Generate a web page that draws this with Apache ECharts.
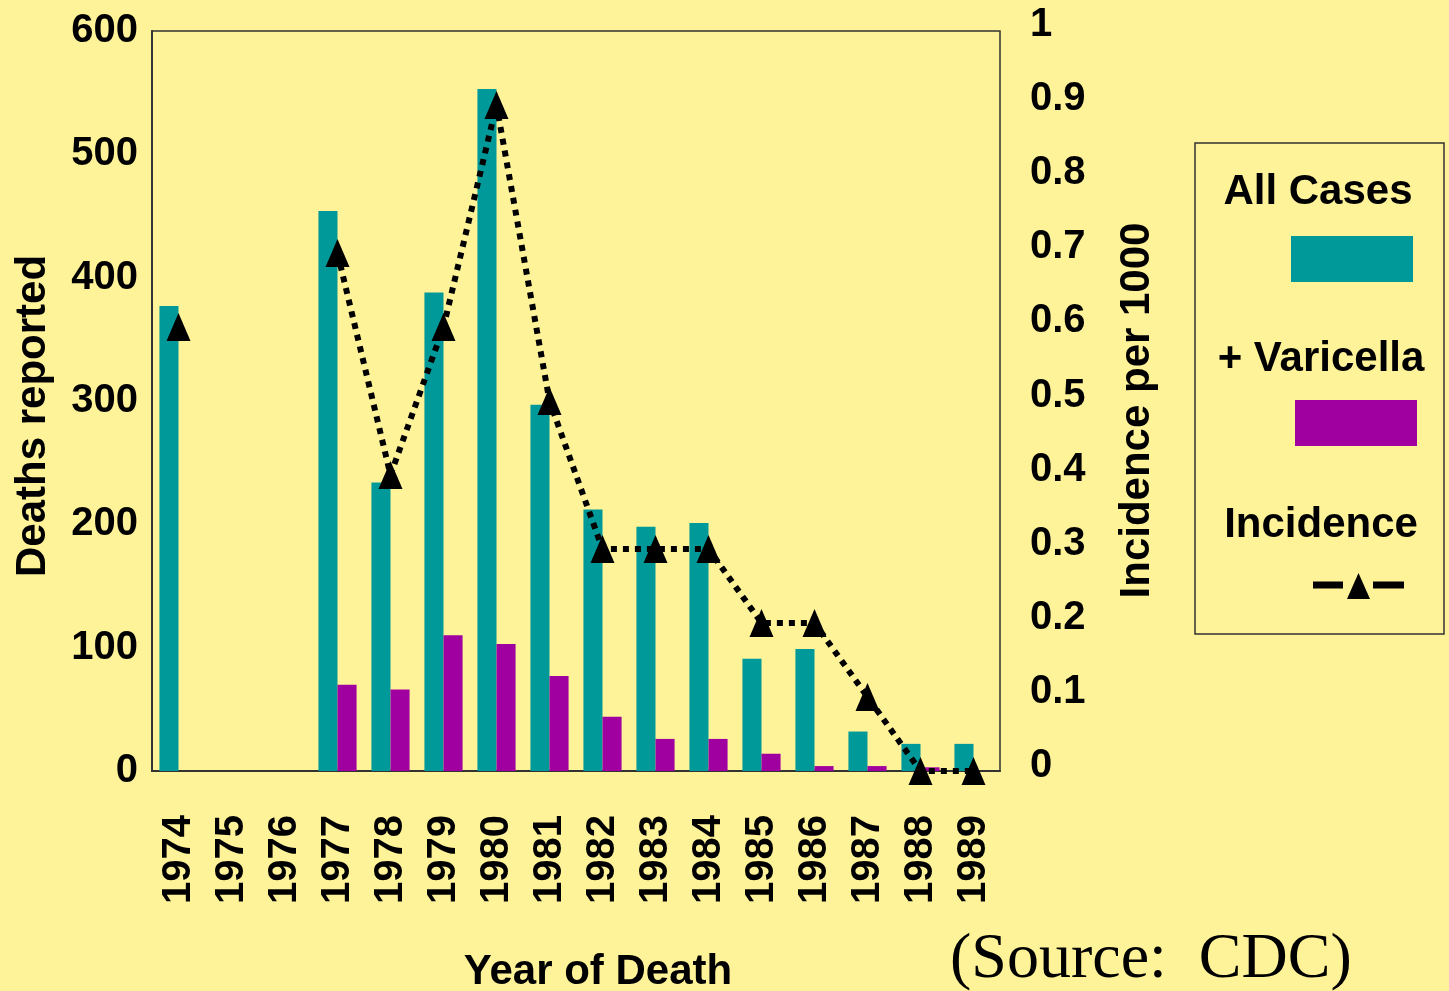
<!DOCTYPE html>
<html>
<head>
<meta charset="utf-8">
<script src="https://cdn.jsdelivr.net/npm/echarts@6/dist/echarts.min.js"></script>
<style>
  html, body { margin: 0; padding: 0; background: #FFF399; }
  #main { width: 1449px; height: 991px; }
</style>
</head>
<body>
<div id="main"></div>
<script>
  // data
  var years = ['1974', '1975', '1976', '1977', '1978', '1979', '1980', '1981',
               '1982', '1983', '1984', '1985', '1986', '1987', '1988', '1989']
  var allCases = [377, null, null, 454, 234, 388, 553, 297, 212, 198, 201, 91, 99, 32, 22, 22]
  var varicella = [null, null, null, 70, 66, 110, 103, 77, 44, 26, 26, 14, 4, 4, 3, null]
  var incidence = [0.6, null, null, 0.7, 0.4, 0.6, 0.9, 0.5, 0.3, 0.3, 0.3, 0.2, 0.2, 0.1, 0, 0]

  var font = '"Liberation Sans", Arial, sans-serif'
  var chart = echarts.init(document.getElementById('main'))
  chart.setOption({
    backgroundColor: '#FFF399',
    animation: false,
    grid: [
      {
        left: 152, right: 449, top: 31, bottom: 220,
        outerBoundsMode: 'none', containLabel: false,
        show: true, borderColor: '#333', borderWidth: 1.5, backgroundColor: 'transparent'
      },
      // right-hand scale in the original sits a few px higher than the plot
      { left: 152, right: 449, top: 25, bottom: 225, outerBoundsMode: 'none', containLabel: false }
    ],
    xAxis: [
      {
        type: 'category',
        data: years,
        axisTick: { show: false },
        axisLine: { lineStyle: { color: '#333', width: 2 } },
        axisLabel: { rotate: 90, margin: 44, color: '#000', fontFamily: font, fontWeight: 'bold', fontSize: 40 },
        name: 'Year of Death',
        nameLocation: 'middle',
        nameGap: 180,
        nameTextStyle: { color: '#000', fontFamily: font, fontWeight: 'bold', fontSize: 42, padding: [0, 0, 0, 44] }
      },
      { type: 'category', data: years, gridIndex: 1, show: false }
    ],
    yAxis: [
      {
        type: 'value', min: 0, max: 600, interval: 100,
        splitLine: { show: false },
        axisLine: { show: true, lineStyle: { color: '#333', width: 2 } },
        axisTick: { show: false },
        axisLabel: { margin: 14, color: '#000', fontFamily: font, fontWeight: 'bold', fontSize: 40 },
        name: 'Deaths reported',
        nameLocation: 'middle',
        nameGap: 98,
        nameTextStyle: { color: '#000', fontFamily: font, fontWeight: 'bold', fontSize: 42, padding: [0, 30, 0, 0] }
      },
      {
        type: 'value', min: 0, max: 1, interval: 0.1,
        position: 'right', show: false, splitLine: { show: false }
      },
      {
        type: 'value', min: 0, max: 1, interval: 0.1, gridIndex: 1,
        position: 'right',
        splitLine: { show: false },
        axisLine: { show: false },
        axisTick: { show: false },
        axisLabel: { margin: 30, color: '#000', fontFamily: font, fontWeight: 'bold', fontSize: 40 },
        name: 'Incidence per 1000',
        nameLocation: 'middle',
        nameGap: 116,
        nameTextStyle: { color: '#000', fontFamily: font, fontWeight: 'bold', fontSize: 42, padding: [0, 30, 0, 0] }
      }
    ],
    series: [
      {
        name: 'All Cases', type: 'bar', data: allCases,
        barGap: 0, barCategoryGap: '28%',
        itemStyle: { color: '#009999' }
      },
      {
        name: '+ Varicella', type: 'bar', data: varicella,
        itemStyle: { color: '#A0009F' }
      },
      {
        name: 'Incidence', type: 'line', yAxisIndex: 1, data: incidence,
        connectNulls: false, clip: false, z: 5,
        symbol: 'triangle', symbolSize: [24, 28],
        itemStyle: { color: '#000' },
        lineStyle: { color: '#000', width: 6, type: [6, 6] }
      }
    ],
    graphic: [
      // legend box
      { type: 'rect', shape: { x: 1195, y: 143, width: 249, height: 491 },
        style: { fill: 'transparent', stroke: '#333', lineWidth: 1.5 } },
      { type: 'text', x: 1318, y: 213,
        style: { text: 'All Cases', font: 'bold 42px ' + font, fill: '#000', textAlign: 'center', textVerticalAlign: 'bottom' } },
      { type: 'rect', shape: { x: 1291, y: 236, width: 122, height: 46 }, style: { fill: '#009999' } },
      { type: 'text', x: 1321, y: 380,
        style: { text: '+ Varicella', font: 'bold 42px ' + font, fill: '#000', textAlign: 'center', textVerticalAlign: 'bottom' } },
      { type: 'rect', shape: { x: 1295, y: 400, width: 122, height: 46 }, style: { fill: '#A0009F' } },
      { type: 'text', x: 1321, y: 546,
        style: { text: 'Incidence', font: 'bold 42px ' + font, fill: '#000', textAlign: 'center', textVerticalAlign: 'bottom' } },
      { type: 'line', shape: { x1: 1313, y1: 585, x2: 1343, y2: 585 }, style: { stroke: '#000', lineWidth: 7 } },
      { type: 'polygon', shape: { points: [[1347, 599], [1358.5, 573], [1370, 599]] }, style: { fill: '#000' } },
      { type: 'line', shape: { x1: 1373, y1: 585, x2: 1404, y2: 585 }, style: { stroke: '#000', lineWidth: 7 } },
      // source note
      { type: 'text', x: 950, y: 960,
        style: { text: '(Source:  CDC)', font: '64px "Liberation Serif", "Times New Roman", serif', fill: '#000', textVerticalAlign: 'middle' } }
    ]
  })
</script>
</body>
</html>
